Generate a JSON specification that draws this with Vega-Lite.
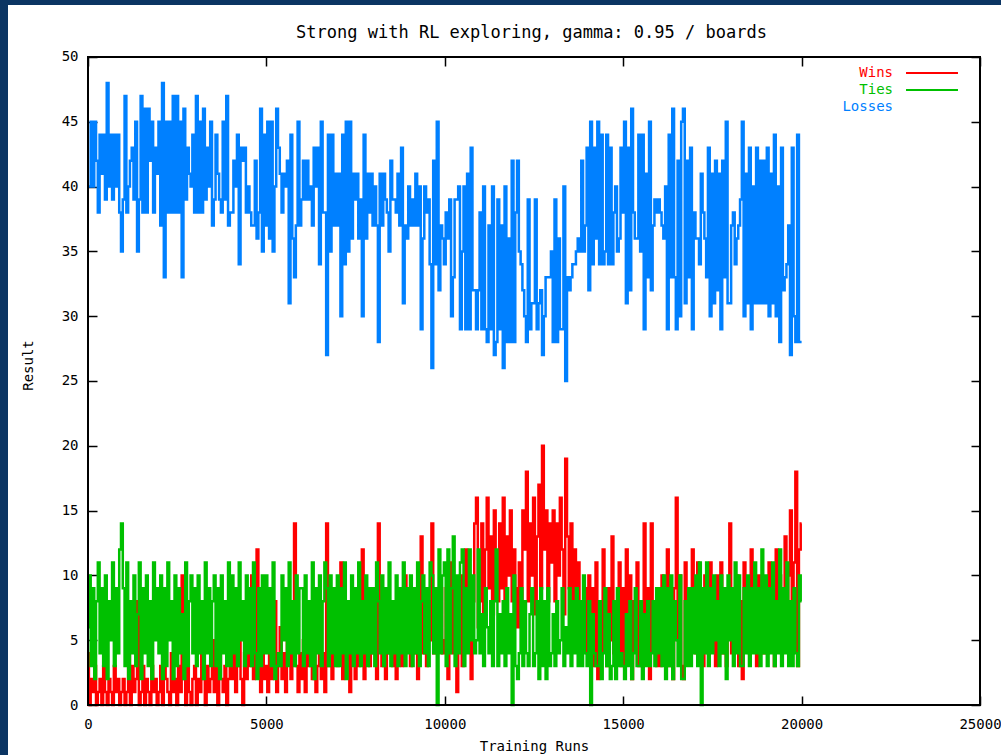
{
"$schema": "https://vega.github.io/schema/vega-lite/v6.json",
"width": 993, "height": 750,
"autosize": {"type": "none"},
"padding": {"left": 8, "top": 5, "right": 0, "bottom": 0},
"background": "#0b3563",
"config": {"view": {"fill": "#ffffff", "stroke": null}, "font": "DejaVu Sans Mono"},
"title": {"text": "Strong with RL exploring, gamma: 0.95 / boards", "frame": "group", "anchor": "middle", "orient": "top", "offset": -45, "baseline": "middle", "dx": 27, "fontSize": 17, "fontWeight": "normal", "font": "DejaVu Sans Mono", "color": "#000000"},
"data": {"values": [
{"r":0,"Wins":4,"Ties":6,"Losses":40},{"r":50,"Wins":0,"Ties":10,"Losses":40},{"r":100,"Wins":2,"Ties":3,"Losses":45},{"r":150,"Wins":1,"Ties":9,"Losses":40},{"r":200,"Wins":3,"Ties":2,"Losses":45},{"r":250,"Wins":0,"Ties":8,"Losses":42},{"r":300,"Wins":1,"Ties":11,"Losses":38},{"r":350,"Wins":2,"Ties":4,"Losses":44},{"r":400,"Wins":0,"Ties":9,"Losses":41},{"r":450,"Wins":3,"Ties":3,"Losses":44},
{"r":500,"Wins":1,"Ties":10,"Losses":39},{"r":550,"Wins":0,"Ties":2,"Losses":48},{"r":600,"Wins":2,"Ties":8,"Losses":40},{"r":650,"Wins":1,"Ties":5,"Losses":44},{"r":700,"Wins":0,"Ties":11,"Losses":39},{"r":750,"Wins":3,"Ties":3,"Losses":44},{"r":800,"Wins":1,"Ties":9,"Losses":40},{"r":850,"Wins":2,"Ties":4,"Losses":44},{"r":900,"Wins":0,"Ties":12,"Losses":38},{"r":950,"Wins":1,"Ties":14,"Losses":35},
{"r":1000,"Wins":2,"Ties":9,"Losses":39},{"r":1050,"Wins":0,"Ties":3,"Losses":47},{"r":1100,"Wins":1,"Ties":11,"Losses":38},{"r":1150,"Wins":8,"Ties":2,"Losses":40},{"r":1200,"Wins":0,"Ties":8,"Losses":42},{"r":1250,"Wins":3,"Ties":4,"Losses":43},{"r":1300,"Wins":1,"Ties":10,"Losses":39},{"r":1350,"Wins":2,"Ties":3,"Losses":45},{"r":1400,"Wins":8,"Ties":7,"Losses":35},{"r":1450,"Wins":0,"Ties":11,"Losses":39},
{"r":1500,"Wins":1,"Ties":2,"Losses":47},{"r":1550,"Wins":3,"Ties":9,"Losses":38},{"r":1600,"Wins":0,"Ties":4,"Losses":46},{"r":1650,"Wins":2,"Ties":10,"Losses":38},{"r":1700,"Wins":1,"Ties":3,"Losses":46},{"r":1750,"Wins":0,"Ties":8,"Losses":42},{"r":1800,"Wins":3,"Ties":2,"Losses":45},{"r":1850,"Wins":1,"Ties":11,"Losses":38},{"r":1900,"Wins":2,"Ties":5,"Losses":43},{"r":1950,"Wins":0,"Ties":9,"Losses":41},
{"r":2000,"Wins":1,"Ties":4,"Losses":45},{"r":2050,"Wins":3,"Ties":10,"Losses":37},{"r":2100,"Wins":0,"Ties":2,"Losses":48},{"r":2150,"Wins":8,"Ties":9,"Losses":33},{"r":2200,"Wins":2,"Ties":3,"Losses":45},{"r":2250,"Wins":1,"Ties":11,"Losses":38},{"r":2300,"Wins":0,"Ties":5,"Losses":45},{"r":2350,"Wins":4,"Ties":8,"Losses":38},{"r":2400,"Wins":1,"Ties":2,"Losses":47},{"r":2450,"Wins":2,"Ties":10,"Losses":38},
{"r":2500,"Wins":0,"Ties":3,"Losses":47},{"r":2550,"Wins":3,"Ties":9,"Losses":38},{"r":2600,"Wins":1,"Ties":4,"Losses":45},{"r":2650,"Wins":10,"Ties":7,"Losses":33},{"r":2700,"Wins":2,"Ties":2,"Losses":46},{"r":2750,"Wins":0,"Ties":11,"Losses":39},{"r":2800,"Wins":4,"Ties":3,"Losses":43},{"r":2850,"Wins":1,"Ties":8,"Losses":41},{"r":2900,"Wins":0,"Ties":10,"Losses":40},{"r":2950,"Wins":2,"Ties":4,"Losses":44},
{"r":3000,"Wins":3,"Ties":9,"Losses":38},{"r":3050,"Wins":0,"Ties":3,"Losses":47},{"r":3100,"Wins":2,"Ties":10,"Losses":38},{"r":3150,"Wins":1,"Ties":4,"Losses":45},{"r":3200,"Wins":4,"Ties":8,"Losses":38},{"r":3250,"Wins":2,"Ties":2,"Losses":46},{"r":3300,"Wins":0,"Ties":11,"Losses":39},{"r":3350,"Wins":3,"Ties":4,"Losses":43},{"r":3400,"Wins":1,"Ties":9,"Losses":40},{"r":3450,"Wins":2,"Ties":3,"Losses":45},
{"r":3500,"Wins":5,"Ties":8,"Losses":37},{"r":3550,"Wins":1,"Ties":10,"Losses":39},{"r":3600,"Wins":3,"Ties":3,"Losses":44},{"r":3650,"Wins":0,"Ties":9,"Losses":41},{"r":3700,"Wins":9,"Ties":2,"Losses":39},{"r":3750,"Wins":2,"Ties":10,"Losses":38},{"r":3800,"Wins":1,"Ties":4,"Losses":45},{"r":3850,"Wins":3,"Ties":8,"Losses":39},{"r":3900,"Wins":0,"Ties":3,"Losses":47},{"r":3950,"Wins":2,"Ties":11,"Losses":37},
{"r":4000,"Wins":9,"Ties":3,"Losses":38},{"r":4050,"Wins":2,"Ties":10,"Losses":38},{"r":4100,"Wins":4,"Ties":4,"Losses":42},{"r":4150,"Wins":1,"Ties":9,"Losses":40},{"r":4200,"Wins":3,"Ties":3,"Losses":44},{"r":4250,"Wins":5,"Ties":11,"Losses":34},{"r":4300,"Wins":2,"Ties":5,"Losses":43},{"r":4350,"Wins":0,"Ties":8,"Losses":42},{"r":4400,"Wins":4,"Ties":3,"Losses":43},{"r":4450,"Wins":2,"Ties":10,"Losses":38},
{"r":4500,"Wins":6,"Ties":4,"Losses":40},{"r":4550,"Wins":3,"Ties":9,"Losses":38},{"r":4600,"Wins":10,"Ties":3,"Losses":37},{"r":4650,"Wins":2,"Ties":11,"Losses":37},{"r":4700,"Wins":4,"Ties":4,"Losses":42},{"r":4750,"Wins":12,"Ties":2,"Losses":36},{"r":4800,"Wins":3,"Ties":9,"Losses":38},{"r":4850,"Wins":1,"Ties":3,"Losses":46},{"r":4900,"Wins":5,"Ties":10,"Losses":35},{"r":4950,"Wins":2,"Ties":4,"Losses":44},
{"r":5000,"Wins":3,"Ties":10,"Losses":37},{"r":5050,"Wins":1,"Ties":4,"Losses":45},{"r":5100,"Wins":5,"Ties":9,"Losses":36},{"r":5150,"Wins":2,"Ties":3,"Losses":45},{"r":5200,"Wins":4,"Ties":11,"Losses":35},{"r":5250,"Wins":8,"Ties":2,"Losses":40},{"r":5300,"Wins":1,"Ties":3,"Losses":46},{"r":5350,"Wins":3,"Ties":4,"Losses":43},{"r":5400,"Wins":6,"Ties":3,"Losses":41},{"r":5450,"Wins":2,"Ties":10,"Losses":38},
{"r":5500,"Wins":4,"Ties":5,"Losses":41},{"r":5550,"Wins":1,"Ties":9,"Losses":40},{"r":5600,"Wins":5,"Ties":3,"Losses":42},{"r":5650,"Wins":8,"Ties":11,"Losses":31},{"r":5700,"Wins":2,"Ties":4,"Losses":44},{"r":5750,"Wins":6,"Ties":8,"Losses":36},{"r":5800,"Wins":14,"Ties":3,"Losses":33},{"r":5850,"Wins":3,"Ties":10,"Losses":37},{"r":5900,"Wins":1,"Ties":4,"Losses":45},{"r":5950,"Wins":4,"Ties":9,"Losses":37},
{"r":6000,"Wins":2,"Ties":9,"Losses":39},{"r":6050,"Wins":5,"Ties":3,"Losses":42},{"r":6100,"Wins":1,"Ties":10,"Losses":39},{"r":6150,"Wins":4,"Ties":4,"Losses":42},{"r":6200,"Wins":3,"Ties":8,"Losses":39},{"r":6250,"Wins":7,"Ties":3,"Losses":40},{"r":6300,"Wins":2,"Ties":11,"Losses":37},{"r":6350,"Wins":5,"Ties":2,"Losses":43},{"r":6400,"Wins":1,"Ties":9,"Losses":40},{"r":6450,"Wins":3,"Ties":4,"Losses":43},
{"r":6500,"Wins":6,"Ties":10,"Losses":34},{"r":6550,"Wins":2,"Ties":3,"Losses":45},{"r":6600,"Wins":4,"Ties":8,"Losses":38},{"r":6650,"Wins":1,"Ties":11,"Losses":38},{"r":6700,"Wins":14,"Ties":9,"Losses":27},{"r":6750,"Wins":3,"Ties":3,"Losses":44},{"r":6800,"Wins":5,"Ties":10,"Losses":35},{"r":6850,"Wins":2,"Ties":4,"Losses":44},{"r":6900,"Wins":4,"Ties":9,"Losses":37},{"r":6950,"Wins":6,"Ties":3,"Losses":41},
{"r":7000,"Wins":3,"Ties":10,"Losses":37},{"r":7050,"Wins":6,"Ties":3,"Losses":41},{"r":7100,"Wins":11,"Ties":9,"Losses":30},{"r":7150,"Wins":2,"Ties":4,"Losses":44},{"r":7200,"Wins":5,"Ties":11,"Losses":34},{"r":7250,"Wins":3,"Ties":2,"Losses":45},{"r":7300,"Wins":7,"Ties":8,"Losses":35},{"r":7350,"Wins":1,"Ties":4,"Losses":45},{"r":7400,"Wins":4,"Ties":10,"Losses":36},{"r":7450,"Wins":6,"Ties":3,"Losses":41},
{"r":7500,"Wins":2,"Ties":9,"Losses":39},{"r":7550,"Wins":5,"Ties":4,"Losses":41},{"r":7600,"Wins":3,"Ties":11,"Losses":36},{"r":7650,"Wins":8,"Ties":3,"Losses":39},{"r":7700,"Wins":12,"Ties":8,"Losses":30},{"r":7750,"Wins":2,"Ties":4,"Losses":44},{"r":7800,"Wins":4,"Ties":10,"Losses":36},{"r":7850,"Wins":6,"Ties":3,"Losses":41},{"r":7900,"Wins":3,"Ties":9,"Losses":38},{"r":7950,"Wins":5,"Ties":4,"Losses":41},
{"r":8000,"Wins":4,"Ties":9,"Losses":37},{"r":8050,"Wins":7,"Ties":3,"Losses":40},{"r":8100,"Wins":2,"Ties":11,"Losses":37},{"r":8150,"Wins":14,"Ties":8,"Losses":28},{"r":8200,"Wins":5,"Ties":4,"Losses":41},{"r":8250,"Wins":3,"Ties":10,"Losses":37},{"r":8300,"Wins":6,"Ties":3,"Losses":41},{"r":8350,"Wins":2,"Ties":9,"Losses":39},{"r":8400,"Wins":8,"Ties":4,"Losses":38},{"r":8450,"Wins":4,"Ties":11,"Losses":35},
{"r":8500,"Wins":5,"Ties":3,"Losses":42},{"r":8550,"Wins":3,"Ties":8,"Losses":39},{"r":8600,"Wins":7,"Ties":4,"Losses":39},{"r":8650,"Wins":2,"Ties":10,"Losses":38},{"r":8700,"Wins":6,"Ties":3,"Losses":41},{"r":8750,"Wins":4,"Ties":9,"Losses":37},{"r":8800,"Wins":3,"Ties":4,"Losses":43},{"r":8850,"Wins":8,"Ties":11,"Losses":31},{"r":8900,"Wins":10,"Ties":3,"Losses":37},{"r":8950,"Wins":5,"Ties":9,"Losses":36},
{"r":9000,"Wins":6,"Ties":4,"Losses":40},{"r":9050,"Wins":3,"Ties":10,"Losses":37},{"r":9100,"Wins":8,"Ties":3,"Losses":39},{"r":9150,"Wins":4,"Ties":9,"Losses":37},{"r":9200,"Wins":5,"Ties":4,"Losses":41},{"r":9250,"Wins":2,"Ties":11,"Losses":37},{"r":9300,"Wins":7,"Ties":3,"Losses":40},{"r":9350,"Wins":13,"Ties":8,"Losses":29},{"r":9400,"Wins":4,"Ties":10,"Losses":36},{"r":9450,"Wins":6,"Ties":4,"Losses":40},
{"r":9500,"Wins":3,"Ties":9,"Losses":38},{"r":9550,"Wins":8,"Ties":3,"Losses":39},{"r":9600,"Wins":5,"Ties":11,"Losses":34},{"r":9650,"Wins":14,"Ties":10,"Losses":26},{"r":9700,"Wins":4,"Ties":4,"Losses":42},{"r":9750,"Wins":7,"Ties":9,"Losses":34},{"r":9800,"Wins":5,"Ties":0,"Losses":45},{"r":9850,"Wins":6,"Ties":12,"Losses":32},{"r":9900,"Wins":9,"Ties":4,"Losses":37},{"r":9950,"Wins":4,"Ties":10,"Losses":36},
{"r":10000,"Wins":5,"Ties":11,"Losses":34},{"r":10050,"Wins":9,"Ties":3,"Losses":38},{"r":10100,"Wins":2,"Ties":12,"Losses":36},{"r":10150,"Wins":7,"Ties":4,"Losses":39},{"r":10200,"Wins":11,"Ties":9,"Losses":30},{"r":10250,"Wins":4,"Ties":13,"Losses":33},{"r":10300,"Wins":8,"Ties":3,"Losses":39},{"r":10350,"Wins":1,"Ties":10,"Losses":39},{"r":10400,"Wins":6,"Ties":4,"Losses":40},{"r":10450,"Wins":10,"Ties":11,"Losses":29},
{"r":10500,"Wins":3,"Ties":12,"Losses":35},{"r":10550,"Wins":7,"Ties":3,"Losses":40},{"r":10600,"Wins":12,"Ties":9,"Losses":29},{"r":10650,"Wins":5,"Ties":4,"Losses":41},{"r":10700,"Wins":9,"Ties":12,"Losses":29},{"r":10750,"Wins":2,"Ties":5,"Losses":43},{"r":10800,"Wins":8,"Ties":10,"Losses":32},{"r":10850,"Wins":14,"Ties":4,"Losses":32},{"r":10900,"Wins":16,"Ties":5,"Losses":29},{"r":10950,"Wins":6,"Ties":12,"Losses":32},
{"r":11000,"Wins":8,"Ties":4,"Losses":38},{"r":11050,"Wins":14,"Ties":7,"Losses":29},{"r":11100,"Wins":7,"Ties":3,"Losses":40},{"r":11150,"Wins":12,"Ties":9,"Losses":29},{"r":11200,"Wins":16,"Ties":6,"Losses":28},{"r":11250,"Wins":9,"Ties":4,"Losses":37},{"r":11300,"Wins":13,"Ties":8,"Losses":29},{"r":11350,"Wins":7,"Ties":3,"Losses":40},{"r":11400,"Wins":15,"Ties":8,"Losses":27},{"r":11450,"Wins":10,"Ties":12,"Losses":28},
{"r":11500,"Wins":8,"Ties":3,"Losses":39},{"r":11550,"Wins":14,"Ties":7,"Losses":29},{"r":11600,"Wins":9,"Ties":4,"Losses":37},{"r":11650,"Wins":16,"Ties":8,"Losses":26},{"r":11700,"Wins":7,"Ties":3,"Losses":40},{"r":11750,"Wins":13,"Ties":9,"Losses":28},{"r":11800,"Wins":10,"Ties":4,"Losses":36},{"r":11850,"Wins":15,"Ties":7,"Losses":28},{"r":11900,"Wins":8,"Ties":0,"Losses":42},{"r":11950,"Wins":12,"Ties":10,"Losses":28},
{"r":12000,"Wins":9,"Ties":3,"Losses":38},{"r":12050,"Wins":6,"Ties":2,"Losses":42},{"r":12100,"Wins":11,"Ties":4,"Losses":35},{"r":12150,"Wins":7,"Ties":9,"Losses":34},{"r":12200,"Wins":15,"Ties":3,"Losses":32},{"r":12250,"Wins":12,"Ties":8,"Losses":30},{"r":12300,"Wins":18,"Ties":4,"Losses":28},{"r":12350,"Wins":8,"Ties":3,"Losses":39},{"r":12400,"Wins":14,"Ties":7,"Losses":29},{"r":12450,"Wins":10,"Ties":9,"Losses":31},
{"r":12500,"Wins":16,"Ties":3,"Losses":31},{"r":12550,"Wins":7,"Ties":4,"Losses":39},{"r":12600,"Wins":13,"Ties":8,"Losses":29},{"r":12650,"Wins":17,"Ties":2,"Losses":31},{"r":12700,"Wins":9,"Ties":9,"Losses":32},{"r":12750,"Wins":20,"Ties":3,"Losses":27},{"r":12800,"Wins":12,"Ties":8,"Losses":30},{"r":12850,"Wins":15,"Ties":2,"Losses":33},{"r":12900,"Wins":8,"Ties":9,"Losses":33},{"r":12950,"Wins":14,"Ties":3,"Losses":33},
{"r":13000,"Wins":11,"Ties":4,"Losses":35},{"r":13050,"Wins":15,"Ties":7,"Losses":28},{"r":13100,"Wins":8,"Ties":3,"Losses":39},{"r":13150,"Wins":14,"Ties":8,"Losses":28},{"r":13200,"Wins":10,"Ties":4,"Losses":36},{"r":13250,"Wins":16,"Ties":5,"Losses":29},{"r":13300,"Wins":12,"Ties":9,"Losses":29},{"r":13350,"Wins":7,"Ties":3,"Losses":40},{"r":13400,"Wins":19,"Ties":6,"Losses":25},{"r":13450,"Wins":13,"Ties":4,"Losses":33},
{"r":13500,"Wins":9,"Ties":9,"Losses":32},{"r":13550,"Wins":14,"Ties":3,"Losses":33},{"r":13600,"Wins":8,"Ties":8,"Losses":34},{"r":13650,"Wins":12,"Ties":4,"Losses":34},{"r":13700,"Wins":6,"Ties":9,"Losses":35},{"r":13750,"Wins":11,"Ties":3,"Losses":36},{"r":13800,"Wins":7,"Ties":8,"Losses":35},{"r":13850,"Wins":5,"Ties":3,"Losses":42},{"r":13900,"Wins":5,"Ties":10,"Losses":35},{"r":13950,"Wins":9,"Ties":4,"Losses":37},
{"r":14000,"Wins":4,"Ties":3,"Losses":43},{"r":14050,"Wins":10,"Ties":8,"Losses":32},{"r":14100,"Wins":5,"Ties":0,"Losses":45},{"r":14150,"Wins":9,"Ties":7,"Losses":34},{"r":14200,"Wins":3,"Ties":4,"Losses":43},{"r":14250,"Wins":11,"Ties":3,"Losses":36},{"r":14300,"Wins":2,"Ties":3,"Losses":45},{"r":14350,"Wins":8,"Ties":8,"Losses":34},{"r":14400,"Wins":4,"Ties":2,"Losses":44},{"r":14450,"Wins":12,"Ties":4,"Losses":34},
{"r":14500,"Wins":6,"Ties":9,"Losses":35},{"r":14550,"Wins":3,"Ties":3,"Losses":44},{"r":14600,"Wins":9,"Ties":7,"Losses":34},{"r":14650,"Wins":5,"Ties":2,"Losses":43},{"r":14700,"Wins":13,"Ties":3,"Losses":34},{"r":14750,"Wins":4,"Ties":8,"Losses":38},{"r":14800,"Wins":8,"Ties":2,"Losses":40},{"r":14850,"Wins":6,"Ties":9,"Losses":35},{"r":14900,"Wins":11,"Ties":3,"Losses":36},{"r":14950,"Wins":3,"Ties":4,"Losses":43},
{"r":15000,"Wins":9,"Ties":3,"Losses":38},{"r":15050,"Wins":3,"Ties":2,"Losses":45},{"r":15100,"Wins":12,"Ties":7,"Losses":31},{"r":15150,"Wins":4,"Ties":3,"Losses":43},{"r":15200,"Wins":10,"Ties":8,"Losses":32},{"r":15250,"Wins":2,"Ties":2,"Losses":46},{"r":15300,"Wins":8,"Ties":4,"Losses":38},{"r":15350,"Wins":5,"Ties":9,"Losses":36},{"r":15400,"Wins":11,"Ties":3,"Losses":36},{"r":15450,"Wins":3,"Ties":3,"Losses":44},
{"r":15500,"Wins":7,"Ties":8,"Losses":35},{"r":15550,"Wins":4,"Ties":2,"Losses":44},{"r":15600,"Wins":14,"Ties":7,"Losses":29},{"r":15650,"Wins":6,"Ties":3,"Losses":41},{"r":15700,"Wins":9,"Ties":8,"Losses":33},{"r":15750,"Wins":2,"Ties":3,"Losses":45},{"r":15800,"Wins":14,"Ties":4,"Losses":32},{"r":15850,"Wins":5,"Ties":8,"Losses":37},{"r":15900,"Wins":8,"Ties":3,"Losses":39},{"r":15950,"Wins":3,"Ties":9,"Losses":38},
{"r":16000,"Wins":7,"Ties":4,"Losses":39},{"r":16050,"Wins":3,"Ties":9,"Losses":38},{"r":16100,"Wins":10,"Ties":3,"Losses":37},{"r":16150,"Wins":4,"Ties":10,"Losses":36},{"r":16200,"Wins":8,"Ties":2,"Losses":40},{"r":16250,"Wins":12,"Ties":9,"Losses":29},{"r":16300,"Wins":3,"Ties":3,"Losses":44},{"r":16350,"Wins":7,"Ties":10,"Losses":33},{"r":16400,"Wins":2,"Ties":2,"Losses":46},{"r":16450,"Wins":9,"Ties":8,"Losses":33},
{"r":16500,"Wins":16,"Ties":5,"Losses":29},{"r":16550,"Wins":5,"Ties":3,"Losses":42},{"r":16600,"Wins":10,"Ties":10,"Losses":30},{"r":16650,"Wins":3,"Ties":2,"Losses":45},{"r":16700,"Wins":2,"Ties":2,"Losses":46},{"r":16750,"Wins":11,"Ties":8,"Losses":31},{"r":16800,"Wins":5,"Ties":3,"Losses":42},{"r":16850,"Wins":8,"Ties":9,"Losses":33},{"r":16900,"Wins":4,"Ties":3,"Losses":43},{"r":16950,"Wins":12,"Ties":9,"Losses":29},
{"r":17000,"Wins":8,"Ties":4,"Losses":38},{"r":17050,"Wins":4,"Ties":10,"Losses":36},{"r":17100,"Wins":11,"Ties":3,"Losses":36},{"r":17150,"Wins":5,"Ties":11,"Losses":34},{"r":17200,"Wins":9,"Ties":0,"Losses":41},{"r":17250,"Wins":3,"Ties":9,"Losses":38},{"r":17300,"Wins":10,"Ties":4,"Losses":36},{"r":17350,"Wins":6,"Ties":11,"Losses":33},{"r":17400,"Wins":4,"Ties":3,"Losses":43},{"r":17450,"Wins":11,"Ties":9,"Losses":30},
{"r":17500,"Wins":5,"Ties":4,"Losses":41},{"r":17550,"Wins":9,"Ties":10,"Losses":31},{"r":17600,"Wins":3,"Ties":5,"Losses":42},{"r":17650,"Wins":10,"Ties":8,"Losses":32},{"r":17700,"Wins":6,"Ties":3,"Losses":41},{"r":17750,"Wins":11,"Ties":10,"Losses":29},{"r":17800,"Wins":4,"Ties":4,"Losses":42},{"r":17850,"Wins":8,"Ties":9,"Losses":33},{"r":17900,"Wins":3,"Ties":2,"Losses":45},{"r":17950,"Wins":9,"Ties":10,"Losses":31},
{"r":18000,"Wins":14,"Ties":5,"Losses":31},{"r":18050,"Wins":4,"Ties":9,"Losses":37},{"r":18100,"Wins":9,"Ties":3,"Losses":38},{"r":18150,"Wins":5,"Ties":11,"Losses":34},{"r":18200,"Wins":10,"Ties":4,"Losses":36},{"r":18250,"Wins":3,"Ties":10,"Losses":37},{"r":18300,"Wins":8,"Ties":3,"Losses":39},{"r":18350,"Wins":2,"Ties":3,"Losses":45},{"r":18400,"Wins":11,"Ties":9,"Losses":30},{"r":18450,"Wins":5,"Ties":4,"Losses":41},
{"r":18500,"Wins":9,"Ties":10,"Losses":31},{"r":18550,"Wins":4,"Ties":3,"Losses":43},{"r":18600,"Wins":12,"Ties":9,"Losses":29},{"r":18650,"Wins":6,"Ties":4,"Losses":40},{"r":18700,"Wins":8,"Ties":11,"Losses":31},{"r":18750,"Wins":3,"Ties":4,"Losses":43},{"r":18800,"Wins":10,"Ties":9,"Losses":31},{"r":18850,"Wins":5,"Ties":3,"Losses":42},{"r":18900,"Wins":7,"Ties":12,"Losses":31},{"r":18950,"Wins":4,"Ties":4,"Losses":42},
{"r":19000,"Wins":9,"Ties":10,"Losses":31},{"r":19050,"Wins":4,"Ties":3,"Losses":43},{"r":19100,"Wins":11,"Ties":9,"Losses":30},{"r":19150,"Wins":5,"Ties":4,"Losses":41},{"r":19200,"Wins":8,"Ties":11,"Losses":31},{"r":19250,"Wins":3,"Ties":3,"Losses":44},{"r":19300,"Wins":12,"Ties":8,"Losses":30},{"r":19350,"Wins":6,"Ties":4,"Losses":40},{"r":19400,"Wins":10,"Ties":12,"Losses":28},{"r":19450,"Wins":4,"Ties":3,"Losses":43},
{"r":19500,"Wins":9,"Ties":9,"Losses":32},{"r":19550,"Wins":13,"Ties":4,"Losses":33},{"r":19600,"Wins":5,"Ties":11,"Losses":34},{"r":19650,"Wins":10,"Ties":3,"Losses":37},{"r":19700,"Wins":15,"Ties":8,"Losses":27},{"r":19750,"Wins":4,"Ties":3,"Losses":43},{"r":19800,"Wins":11,"Ties":9,"Losses":30},{"r":19850,"Wins":18,"Ties":4,"Losses":28},{"r":19900,"Wins":3,"Ties":3,"Losses":44},{"r":19950,"Wins":12,"Ties":10,"Losses":28},
{"r":20000,"Wins":14,"Ties":8,"Losses":28}
]},
"transform": [{"fold": ["Wins", "Ties", "Losses"], "as": ["series", "value"]}],
"layer": [
{"transform": [{"filter": "datum.series === 'Wins'"}],
 "mark": {"type": "line", "strokeWidth": 2.5, "interpolate": "step"},
 "encoding": {
  "x": {"field": "r", "type": "quantitative", "scale": {"domain": [-2242.2, 25588.6], "nice": false, "zero": false},
        "axis": {"orient": "bottom", "offset": -50, "values": [0, 5000, 10000, 15000, 20000, 25000], "format": "d", "domain": false, "grid": false, "ticks": true, "tickSize": -9, "tickColor": "#000000", "tickWidth": 1.5, "labelPadding": 21, "labelFont": "DejaVu Sans Mono", "labelFontSize": 14, "labelColor": "#000000", "labelFlush": false, "labelOverlap": false, "title": "Training Runs", "titleFont": "DejaVu Sans Mono", "titleFontSize": 14, "titleFontWeight": "normal", "titleColor": "#000000", "titleX": 526, "titleY": 41, "titleBaseline": "middle", "titleAlign": "center", "titleAnchor": null}},
  "y": {"field": "value", "type": "quantitative", "scale": {"domain": [-3.858, 54.012], "nice": false, "zero": false},
        "axis": {"orient": "left", "offset": -80, "values": [0, 5, 10, 15, 20, 25, 30, 35, 40, 45, 50], "domain": false, "grid": false, "ticks": true, "tickSize": -9, "tickColor": "#000000", "tickWidth": 1.5, "labelPadding": 19, "labelFont": "DejaVu Sans Mono", "labelFontSize": 14, "labelColor": "#000000", "labelFlush": false, "labelOverlap": false, "title": "Result", "titleFont": "DejaVu Sans Mono", "titleFontSize": 14, "titleFontWeight": "normal", "titleColor": "#000000", "titleX": -60, "titleY": 360, "titleAngle": -90, "titleBaseline": "middle", "titleAlign": "center", "titleAnchor": null}},
  "color": {"field": "series", "type": "nominal", "scale": {"domain": ["Wins", "Ties", "Losses"], "range": ["#ff0000", "#00c000", "#0080ff"]},
        "legend": {"orient": "none", "legendX": 917, "legendY": 61, "title": null, "padding": 0, "symbolType": "M-5,0H5", "symbolSize": 108, "symbolStrokeWidth": 2, "labelAlign": "right", "labelOffset": -46, "labelFont": "DejaVu Sans Mono", "labelFontSize": 14, "rowPadding": 3,
          "encode": {"labels": {"update": {"fill": {"scale": "color", "field": "value"}}}, "symbols": {"update": {"opacity": {"signal": "datum.value === 'Losses' ? 0 : 1"}}}}}}
 }},
{"transform": [{"filter": "datum.series === 'Ties'"}],
 "mark": {"type": "line", "strokeWidth": 2.5, "interpolate": "step"},
 "encoding": {
  "x": {"field": "r", "type": "quantitative", "axis": null},
  "y": {"field": "value", "type": "quantitative", "axis": null},
  "color": {"field": "series", "type": "nominal"}
 }},
{"transform": [{"filter": "datum.series === 'Losses'"}],
 "mark": {"type": "line", "strokeWidth": 2.5, "interpolate": "step"},
 "encoding": {
  "x": {"field": "r", "type": "quantitative", "axis": null},
  "y": {"field": "value", "type": "quantitative", "axis": null},
  "color": {"field": "series", "type": "nominal"}
 }},
{"data": {"values": [{"f": 1}]},
 "mark": {"type": "rect", "filled": false, "stroke": "#000000", "strokeWidth": 2},
 "encoding": {
  "x": {"datum": 0, "type": "quantitative", "axis": {"orient": "top", "offset": -52, "values": [0, 5000, 10000, 15000, 20000, 25000], "domain": false, "grid": false, "labels": false, "ticks": true, "tickSize": -9, "tickColor": "#000000", "tickWidth": 1.5, "title": null}},
  "x2": {"datum": 25000},
  "y": {"datum": 0, "type": "quantitative", "axis": {"orient": "right", "offset": -21, "values": [0, 5, 10, 15, 20, 25, 30, 35, 40, 45, 50], "domain": false, "grid": false, "labels": false, "ticks": true, "tickSize": -9, "tickColor": "#000000", "tickWidth": 1.5, "title": null}},
  "y2": {"datum": 50}
 }}
],
"resolve": {"axis": {"x": "independent", "y": "independent"}}
}
